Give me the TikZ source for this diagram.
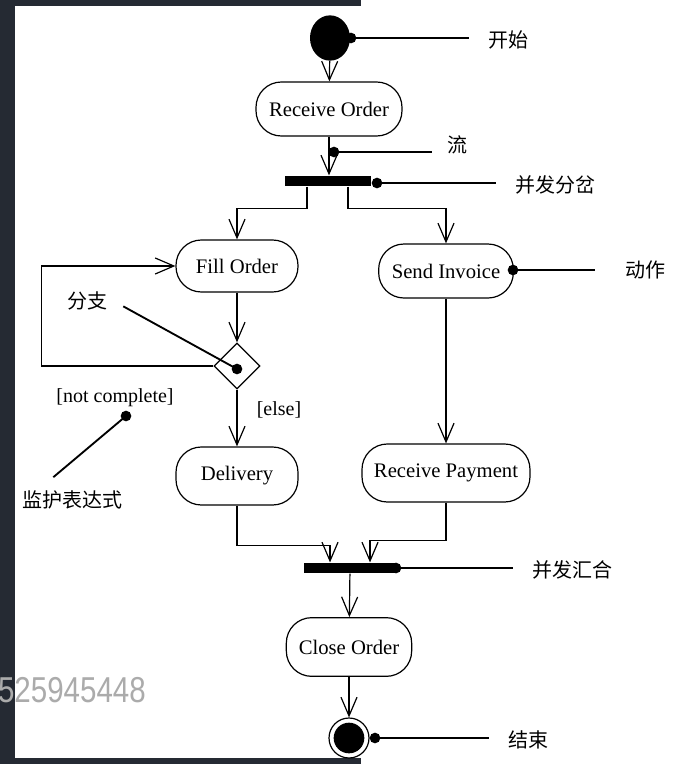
\documentclass[tikz,border=0pt]{standalone}
\usepackage{fontspec}
\setmainfont{Liberation Serif}
\newfontfamily\cjk{Noto Sans CJK SC}
\newfontfamily\wmfont{Liberation Sans}
\usepackage{xcolor}
\usepackage{tikz}
\usetikzlibrary{arrows.meta,positioning,shapes.geometric}
\definecolor{screendark}{HTML}{252A33}
\definecolor{wmgray}{HTML}{ABABAB}

\begin{document}
\begin{tikzpicture}[x=0.75pt, y=-0.75pt,
      act/.style={draw, line width=0.9pt, rounded corners=19pt,
                  minimum height=40.5pt, inner sep=0pt,
                  font=\fontsize{15.5}{17}\selectfont, align=center},
      bar/.style={fill=black, minimum height=8pt, inner sep=0pt},
      note/.style={font=\cjk\fontsize{15}{17}\selectfont, inner sep=0pt},
      guard/.style={font=\fontsize{15}{17}\selectfont, inner sep=0pt},
      pin/.style={circle, fill=black, minimum size=8pt, inner sep=0pt},
      flow/.style={-{Straight Barb[length=14pt,width=12pt]}, line width=0.9pt},
      lead/.style={line width=1.4pt}
  ]
    % screen frame
    \useasboundingbox (0,0) rectangle (682,764);
    \fill[white] (0,0) rectangle (682,764);
    \fill[screendark] (0,0) rectangle (15,764);
    \fill[screendark] (0,0) rectangle (361,6);
    \fill[screendark] (0,758) rectangle (361,764);

    % start / end
    \node[ellipse, fill=black, minimum width=30pt, minimum height=34pt, inner sep=0pt] (start) at (330,38) {};
    \node[circle, draw, line width=0.9pt, minimum size=30pt, inner sep=0pt] (endring) at (349,738) {};
    \node[circle, fill=black, minimum size=23pt, inner sep=0pt] (end) at (349,738) {};

    % actions
    \node[act, minimum width=109.5pt] (recv) at (329,109) {Receive Order};
    \node[act, minimum width=91.5pt, minimum height=39pt] (fill) at (237,266) {Fill Order};
    \node[act, minimum width=101pt] (send) at (446,271) {Send Invoice};
    \node[act, minimum width=91.5pt, minimum height=43.5pt] (deliv) at (237,476) {Delivery};
    \node[act, minimum width=126pt, minimum height=43.5pt] (pay) at (446,473) {Receive Payment};
    \node[act, minimum width=94pt, minimum height=44pt] (close) at (349,647) {Close Order};

    % fork, join, decision
    \node[bar, minimum width=65pt] (fork) at (328,181) {};
    \node[bar, minimum width=69pt] (join) at (350,568) {};
    \node[diamond, draw, line width=0.9pt, minimum width=34.5pt, minimum height=34.5pt, inner sep=0pt] (dec) at (237,366) {};

    % flows
    \draw[flow] (start) -- (recv);
    \draw[flow] (recv) -- (recv.south |- fork.north);
    \draw[flow] ([xshift=-15.75pt]fork.south) -- ++(0,22) -| (fill);
    \draw[flow] ([xshift=15pt]fork.south) -- ++(0,22) -| (send);
    \draw[flow] (fill) -- (dec);
    \draw[flow] (dec.west) -- ++(-172,0) |- (fill.west);
    \draw[flow] (dec) -- (deliv);
    \draw[flow] (send) -- (pay);
    \draw[flow] (deliv.south) -- ++(0,40) -| ([xshift=-15pt]join.north);
    \draw[flow] (pay.south) -- ++(0,38) -| ([xshift=15pt]join.north);
    \draw[flow] (join) -- (close);
    \draw[flow] (close) -- (endring);

    % guards
    \node[guard] (nc) at (115,398) {[not complete]};
    \node[guard] (els) at (279,410) {[else]};

    % callouts
    \node[note] (lbstart) at (508,40) {开始};
    \node[note] (lbflow) at (457,145) {流};
    \node[note] (lbfork) at (555,185) {并发分岔};
    \node[note] (lbact) at (645,270) {动作};
    \node[note] (lbdec) at (87,301) {分支};
    \node[note] (lbguard) at (72,500) {监护表达式};
    \node[note] (lbjoin) at (572,570) {并发汇合};
    \node[note] (lbend) at (528,740) {结束};

    \node[pin] (pstart) at (351,38) {};
    \node[pin] (pflow) at (334,152) {};
    \node[pin] (pfork) at (377,183) {};
    \node[pin] (pact) at (513,270) {};
    \node[pin] (pdec) at (237,369) {};
    \node[pin] (pguard) at (126,416) {};
    \node[pin] (pjoin) at (396,568) {};
    \node[pin] (pend) at (375,738) {};

    \draw[lead] (pstart.center) -- ([xshift=-14pt]lbstart.west |- pstart);
    \draw[lead] (pflow.center) -- ([xshift=-11pt]lbflow.west |- pflow);
    \draw[lead] (pfork.center) -- ([xshift=-14pt]lbfork.west |- pfork);
    \draw[lead] (pact.center) -- ([xshift=-22pt]lbact.west |- pact);
    \draw[lead] (pdec.center) -- ([xshift=12pt,yshift=-4pt]lbdec.east);
    \draw[lead] (pguard.center) -- ([xshift=-14pt,yshift=10pt]lbguard.north);
    \draw[lead] (pjoin.center) -- ([xshift=-14pt]lbjoin.west |- pjoin);
    \draw[lead] (pend.center) -- ([xshift=-14pt]lbend.west |- pend);

    % watermark
    \node[anchor=east, inner sep=0pt, text=wmgray, xscale=0.82,
          font=\wmfont\fontsize{27}{29}\selectfont] (wm) at (146,690) {525945448};
  \end{tikzpicture}
\end{document}
